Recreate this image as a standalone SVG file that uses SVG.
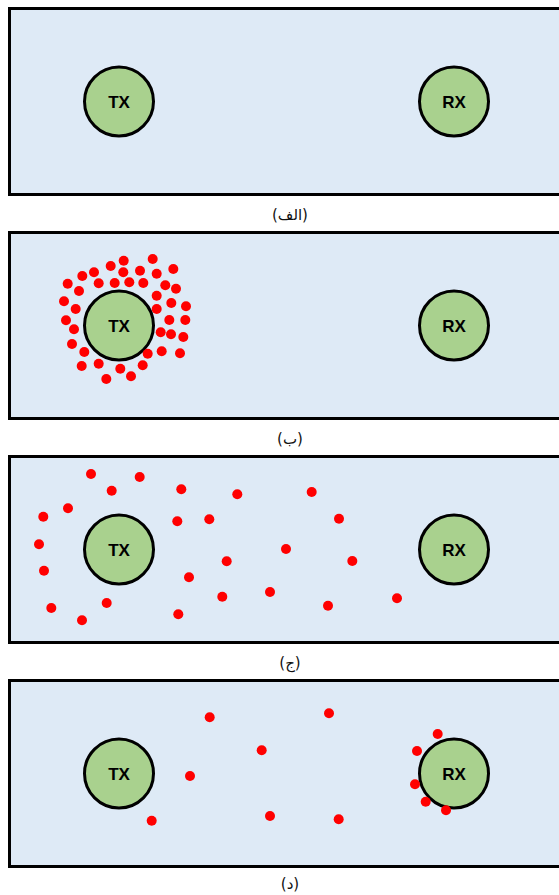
<svg xmlns="http://www.w3.org/2000/svg" width="559" height="895" viewBox="0 0 559 895">
<style>
.panel{fill:#deeaf6;stroke:#000;stroke-width:3}
.node circle{fill:#a9d18e;stroke:#000;stroke-width:3}
.node text{font-family:"Liberation Sans",Arial,sans-serif;font-weight:bold;font-size:17px;fill:#000;text-anchor:middle}
.cap{font-family:"DejaVu Sans","Noto Sans",sans-serif;font-size:15px;fill:#111;text-anchor:middle}
.dots circle{fill:#ff0000}
</style>
<rect width="559" height="895" fill="#fff"/>
<g id="panel-a">
<rect class="panel" x="9.5" y="8.5" width="565" height="186"/>
<g id="tx-a" class="node"><circle cx="119" cy="101.5" r="34.5"/><text x="119" y="107.5">TX</text></g>
<g id="rx-a" class="node"><circle cx="454" cy="101.5" r="34.5"/><text x="454" y="107.5">RX</text></g>
<text class="cap" x="290" y="220" direction="rtl">(الف)</text>
</g>
<g id="panel-b">
<rect class="panel" x="9.5" y="232.5" width="565" height="186"/>
<g id="tx-b" class="node"><circle cx="119" cy="325.5" r="34.5"/><text x="119" y="331.5">TX</text></g>
<g id="rx-b" class="node"><circle cx="454" cy="325.5" r="34.5"/><text x="454" y="331.5">RX</text></g>
<g class="dots">
<circle cx="152.7" cy="259" r="5"/><circle cx="123.7" cy="260.7" r="5"/><circle cx="110.7" cy="266" r="5"/><circle cx="94" cy="272.3" r="5"/><circle cx="82.3" cy="276" r="5"/><circle cx="173.3" cy="269" r="5"/><circle cx="140" cy="270.7" r="5"/><circle cx="156.7" cy="273.7" r="5"/><circle cx="123.3" cy="272.3" r="5"/><circle cx="67.7" cy="283.7" r="5"/><circle cx="98.7" cy="283.3" r="5"/><circle cx="114.7" cy="283" r="5"/><circle cx="129.3" cy="282.3" r="5"/><circle cx="143.3" cy="283" r="5"/><circle cx="165.3" cy="285.3" r="5"/><circle cx="176" cy="288.7" r="5"/><circle cx="79" cy="291" r="5"/><circle cx="156.7" cy="295.7" r="5"/><circle cx="64" cy="301.3" r="5"/><circle cx="171.3" cy="303" r="5"/><circle cx="186" cy="306.3" r="5"/><circle cx="75.7" cy="309" r="5"/><circle cx="156.7" cy="309" r="5"/><circle cx="66" cy="320.3" r="5"/><circle cx="169.3" cy="320" r="5"/><circle cx="185.3" cy="320" r="5"/><circle cx="74" cy="329.3" r="5"/><circle cx="160.7" cy="332.3" r="5"/><circle cx="171" cy="334.3" r="5"/><circle cx="183.3" cy="337" r="5"/><circle cx="72" cy="344" r="5"/><circle cx="84.3" cy="352" r="5"/><circle cx="147.7" cy="353.7" r="5"/><circle cx="161.7" cy="351.3" r="5"/><circle cx="180" cy="353.3" r="5"/><circle cx="81.7" cy="366" r="5"/><circle cx="98.7" cy="363.7" r="5"/><circle cx="142.7" cy="365.3" r="5"/><circle cx="120.3" cy="368.7" r="5"/><circle cx="106.3" cy="379" r="5"/><circle cx="131" cy="376.3" r="5"/>
</g>
<text class="cap" x="290" y="444" direction="rtl">(ب)</text>
</g>
<g id="panel-c">
<rect class="panel" x="9.5" y="456.5" width="565" height="186"/>
<g id="tx-c" class="node"><circle cx="119" cy="549.5" r="34.5"/><text x="119" y="555.5">TX</text></g>
<g id="rx-c" class="node"><circle cx="454" cy="549.5" r="34.5"/><text x="454" y="555.5">RX</text></g>
<g class="dots">
<circle cx="91" cy="474" r="5"/><circle cx="139.7" cy="477" r="5"/><circle cx="111.7" cy="490.7" r="5"/><circle cx="181.3" cy="489.3" r="5"/><circle cx="237.3" cy="494.3" r="5"/><circle cx="68" cy="508.3" r="5"/><circle cx="43.3" cy="516.7" r="5"/><circle cx="177.3" cy="521.3" r="5"/><circle cx="209.3" cy="519.3" r="5"/><circle cx="39" cy="544.3" r="5"/><circle cx="226.7" cy="561.3" r="5"/><circle cx="44" cy="570.7" r="5"/><circle cx="189" cy="577.3" r="5"/><circle cx="270" cy="592" r="5"/><circle cx="222.3" cy="596.7" r="5"/><circle cx="51.3" cy="608" r="5"/><circle cx="106.7" cy="603" r="5"/><circle cx="82" cy="620.3" r="5"/><circle cx="178.3" cy="614.3" r="5"/><circle cx="311.7" cy="492" r="5"/><circle cx="339" cy="518.7" r="5"/><circle cx="286" cy="549" r="5"/><circle cx="352.3" cy="561" r="5"/><circle cx="328" cy="605.7" r="5"/><circle cx="397" cy="598.3" r="5"/>
</g>
<text class="cap" x="290" y="668" direction="rtl">(ج)</text>
</g>
<g id="panel-d">
<rect class="panel" x="9.5" y="680.5" width="565" height="186"/>
<g id="tx-d" class="node"><circle cx="119" cy="773.5" r="34.5"/><text x="119" y="779.5">TX</text></g>
<g id="rx-d" class="node"><circle cx="454" cy="773.5" r="34.5"/><text x="454" y="779.5">RX</text></g>
<g class="dots">
<circle cx="209.7" cy="717.3" r="5"/><circle cx="329" cy="713.3" r="5"/><circle cx="261.7" cy="750.3" r="5"/><circle cx="190" cy="776" r="5"/><circle cx="151.7" cy="820.7" r="5"/><circle cx="270" cy="816" r="5"/><circle cx="338.7" cy="819.3" r="5"/><circle cx="437.7" cy="734" r="5"/><circle cx="417" cy="751" r="5"/><circle cx="415" cy="784.3" r="5"/><circle cx="425.7" cy="801.7" r="5"/><circle cx="446" cy="810.3" r="5"/>
</g>
<text class="cap" x="290" y="889" direction="rtl">(د)</text>
</g>
<g id="connectors"/>
</svg>
